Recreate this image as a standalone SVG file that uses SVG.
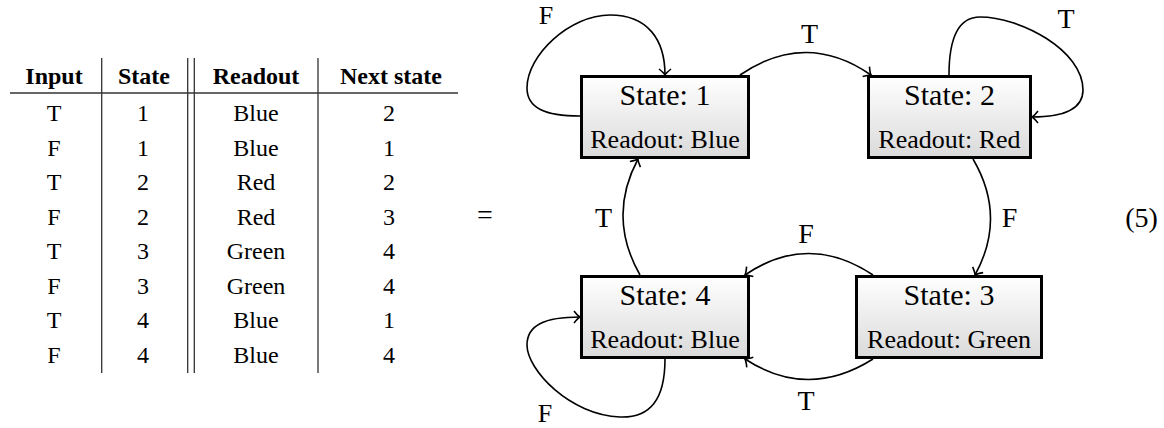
<svg xmlns="http://www.w3.org/2000/svg" width="1164" height="428" viewBox="0 0 1164 428">
<style>
text{font-family:"Liberation Serif","Times New Roman",serif;fill:#000;text-anchor:middle}
.tb{font-size:24px}
.th{font-size:24px;font-weight:bold}
.rule{stroke:#333;stroke-width:1.3;fill:none}
.box{fill:url(#g);stroke:#000;stroke-width:3}
.st{font-size:30px}
.ro{font-size:26px}
.lbl{font-size:28px}
.sm{font-size:26px}
.edge{fill:none;stroke:#000;stroke-width:1.6;marker-end:url(#arr)}
</style>
<defs>
<linearGradient id="g" x1="0" y1="0" x2="0" y2="1">
<stop offset="0" stop-color="#ffffff"/>
<stop offset="1" stop-color="#dadada"/>
</linearGradient>
<marker id="arr" markerUnits="userSpaceOnUse" markerWidth="14" markerHeight="14" viewBox="-8 -7 14 14" refX="0" refY="0" orient="auto" overflow="visible">
<path d="M -6 -6 Q -2 -1 0 0 Q -2 1 -6 6" fill="none" stroke="#000" stroke-width="1.6"/>
</marker>
</defs>

<g id="table">
<line class="rule" x1="10" y1="93" x2="458" y2="93"/>
<line class="rule" x1="101.7" y1="58" x2="101.7" y2="373"/>
<line class="rule" x1="187.7" y1="58" x2="187.7" y2="373"/>
<line class="rule" x1="194.3" y1="58" x2="194.3" y2="373"/>
<line class="rule" x1="318" y1="58" x2="318" y2="373"/>
<text class="th" x="54" y="84">Input</text>
<text class="th" x="144" y="84">State</text>
<text class="th" x="256" y="84">Readout</text>
<text class="th" x="391" y="84">Next state</text>
<g class="tb">
<text x="54" y="121">T</text><text x="143" y="121">1</text><text x="256" y="121">Blue</text><text x="389" y="121">2</text>
<text x="54" y="155.5">F</text><text x="143" y="155.5">1</text><text x="256" y="155.5">Blue</text><text x="389" y="155.5">1</text>
<text x="54" y="190">T</text><text x="143" y="190">2</text><text x="256" y="190">Red</text><text x="389" y="190">2</text>
<text x="54" y="224.5">F</text><text x="143" y="224.5">2</text><text x="256" y="224.5">Red</text><text x="389" y="224.5">3</text>
<text x="54" y="259">T</text><text x="143" y="259">3</text><text x="256" y="259">Green</text><text x="389" y="259">4</text>
<text x="54" y="293.5">F</text><text x="143" y="293.5">3</text><text x="256" y="293.5">Green</text><text x="389" y="293.5">4</text>
<text x="54" y="328">T</text><text x="143" y="328">4</text><text x="256" y="328">Blue</text><text x="389" y="328">1</text>
<text x="54" y="362.5">F</text><text x="143" y="362.5">4</text><text x="256" y="362.5">Blue</text><text x="389" y="362.5">4</text>
</g>
</g>

<text id="equals" class="lbl" x="485" y="224">=</text>
<text id="eqnum" class="lbl" x="1141.5" y="227">(5)</text>

<g id="connectors">
<path class="edge" d="M 580 116 C 545 116, 527 108, 527 88 C 527 55, 570 15, 610 15 C 648 15, 665 40, 665 75"/>
<path class="edge" d="M 740 75 Q 806 30 871 75"/>
<path class="edge" d="M 949 75 C 949 45, 955 17, 980 17 C 1020 17, 1083 50, 1083 90 C 1083 108, 1065 117, 1032 117"/>
<path class="edge" d="M 973 159 Q 1007 217 975 275"/>
<path class="edge" d="M 873 275 Q 808 232 745 275"/>
<path class="edge" d="M 873 359 Q 808 400 745 359"/>
<path class="edge" d="M 640 275 Q 607 217 638 159"/>
<path class="edge" d="M 665 359 C 665 400, 650 418, 620 417 C 570 415, 527 370, 527 345 C 527 325, 545 317, 580 317"/>
</g>

<g id="edge-labels" class="lbl">
<text class="sm" x="546" y="24">F</text>
<text x="809.5" y="43">T</text>
<text x="1066" y="28">T</text>
<text x="1009.5" y="227">F</text>
<text x="806" y="243">F</text>
<text x="806" y="410">T</text>
<text x="603.5" y="227">T</text>
<text class="sm" x="545" y="422">F</text>
</g>

<g id="state1">
<rect class="box" x="581.5" y="76.5" width="167" height="81"/>
<text class="st" x="665" y="105">State: 1</text>
<text class="ro" x="665" y="148">Readout: Blue</text>
</g>
<g id="state2">
<rect class="box" x="868.5" y="76.5" width="162" height="81"/>
<text class="st" x="949.5" y="105">State: 2</text>
<text class="ro" x="949.5" y="148">Readout: Red</text>
</g>
<g id="state3">
<rect class="box" x="856.5" y="276.5" width="185" height="81"/>
<text class="st" x="949" y="305">State: 3</text>
<text class="ro" x="949" y="348">Readout: Green</text>
</g>
<g id="state4">
<rect class="box" x="581.5" y="276.5" width="167" height="81"/>
<text class="st" x="665" y="305">State: 4</text>
<text class="ro" x="665" y="348">Readout: Blue</text>
</g>
</svg>
